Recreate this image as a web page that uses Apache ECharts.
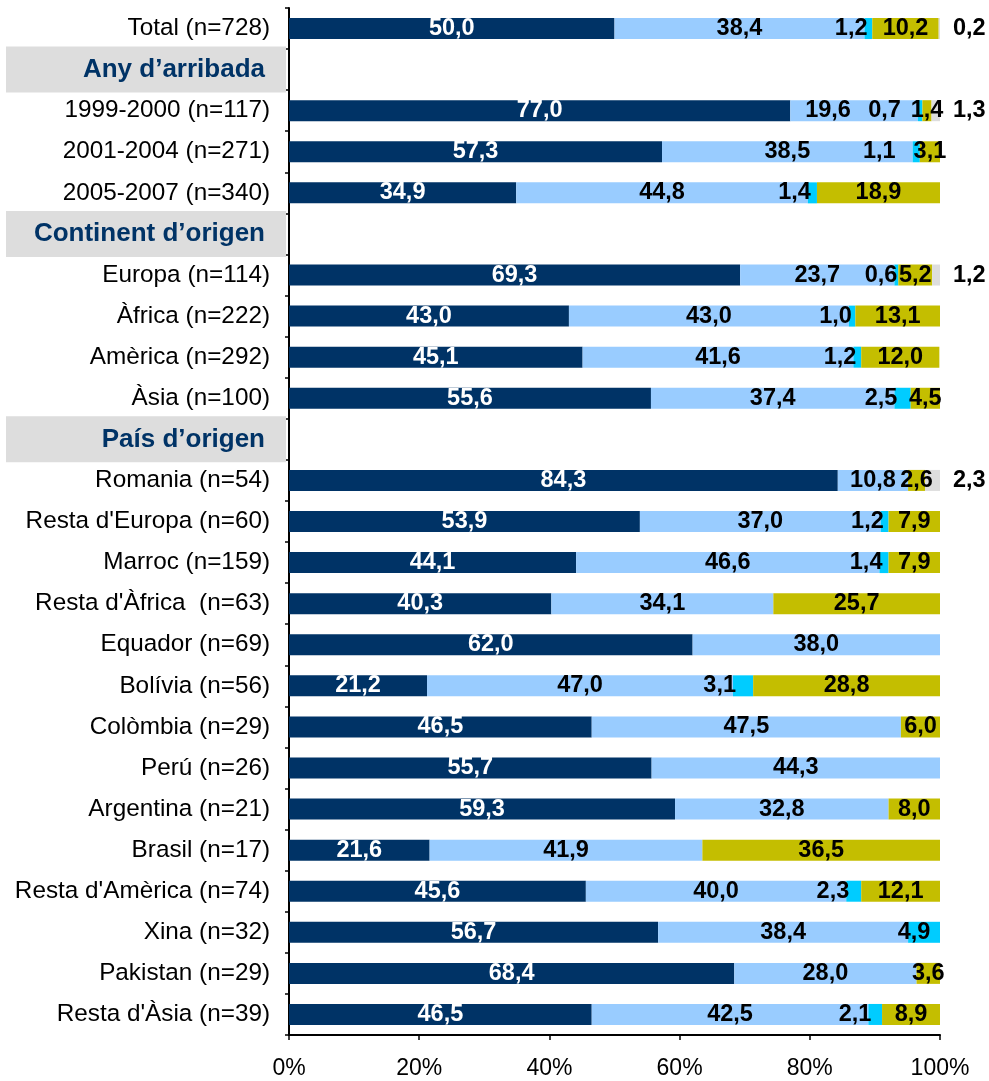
<!DOCTYPE html>
<html>
<head>
<meta charset="utf-8">
<script src="https://cdn.jsdelivr.net/npm/echarts@6/dist/echarts.min.js"></script>
<style>
  html, body { margin: 0; padding: 0; background: #fff; }
  #chart { width: 989px; height: 1081px; }
</style>
</head>
<body>
<div id="chart"></div>
<script>
const categories = [
  'Total (n=728)', 'Any d’arribada', '1999-2000 (n=117)', '2001-2004 (n=271)', '2005-2007 (n=340)',
  'Continent d’origen', 'Europa (n=114)', 'Àfrica (n=222)', 'Amèrica (n=292)', 'Àsia (n=100)',
  'País d’origen', 'Romania (n=54)', "Resta d'Europa (n=60)", 'Marroc (n=159)', "Resta d'Àfrica  (n=63)",
  'Equador (n=69)', 'Bolívia (n=56)', 'Colòmbia (n=29)', 'Perú (n=26)', 'Argentina (n=21)',
  'Brasil (n=17)', "Resta d'Amèrica (n=74)", 'Xina (n=32)', 'Pakistan (n=29)', "Resta d'Àsia (n=39)"
];
const headers = ['Any d’arribada', 'Continent d’origen', 'País d’origen'];

// null = header row
const navy  = [50.0, null, 77.0, 57.3, 34.9, null, 69.3, 43.0, 45.1, 55.6, null, 84.3, 53.9, 44.1, 40.3, 62.0, 21.2, 46.5, 55.7, 59.3, 21.6, 45.6, 56.7, 68.4, 46.5];
const light = [38.4, null, 19.6, 38.5, 44.8, null, 23.7, 43.0, 41.6, 37.4, null, 10.8, 37.0, 46.6, 34.1, 38.0, 47.0, 47.5, 44.3, 32.8, 41.9, 40.0, 38.4, 28.0, 42.5];
const cyan  = [1.2, null, 0.7, 1.1, 1.4, null, 0.6, 1.0, 1.2, 2.5, null, 0, 1.2, 1.4, 0, 0, 3.1, 0, 0, 0, 0, 2.3, 4.9, 0, 2.1];
const olive = [10.2, null, 1.4, 3.1, 18.9, null, 5.2, 13.1, 12.0, 4.5, null, 2.6, 7.9, 7.9, 25.7, 0, 28.8, 6.0, 0, 8.0, 36.5, 12.1, 0, 3.6, 8.9];
const grey  = [0.2, null, 1.3, 0, 0, null, 1.2, 0, 0, 0, null, 2.3, 0, 0, 0, 0, 0, 0, 0, 0, 0, 0, 0, 0, 0];

const xTicks = [0, 20, 40, 60, 80, 100];

const FONT = 'Arial, "Liberation Sans", sans-serif';
const fmt = p => (p.value ? p.value.toFixed(1).replace('.', ',') : '');

const labelBase = { show: true, fontFamily: FONT, fontSize: 23.5, fontWeight: 'bold', color: '#000', formatter: fmt };

// rows where a small olive segment sits right after the cyan one: push labels left
const tight = i => olive[i] > 0 && olive[i] < 3.5 && cyan[i] > 0;
const veryTight = i => olive[i] > 0 && olive[i] < 2 && cyan[i] > 0;

const lightData = light.map((v, i) => veryTight(i) ? { value: v, label: { offset: [-26, 0] } } : v);
const cyanData = cyan.map((v, i) => {
  if (v == null) return v;
  if (v > 4) return { value: v, label: { position: 'inside', offset: [-10, 0] } };
  if (tight(i)) return { value: v, label: { offset: [-20, 0] } };
  return v;
});

const chart = echarts.init(document.getElementById('chart'), null, { renderer: 'canvas' });

const option = {
  backgroundColor: '#fff',
  animation: false,
  grid: { left: 289, right: 49, top: 8, bottom: 46, containLabel: false },
  xAxis: {
    type: 'value',
    min: 0,
    max: 100,
    interval: 20,
    axisLine: { show: true, lineStyle: { color: '#000', width: 2 } },
    axisTick: { show: true, length: 5, lineStyle: { color: '#000', width: 1.5 } },
    splitLine: { show: false },
    axisLabel: {
      margin: 22,
      fontFamily: FONT,
      fontSize: 23,
      color: '#000',
      formatter: v => xTicks.includes(v) ? v + '%' : ''
    }
  },
  yAxis: {
    type: 'category',
    inverse: true,
    data: categories,
    axisLine: { show: true, lineStyle: { color: '#000', width: 2 } },
    axisTick: { show: true, length: 4, lineStyle: { color: '#000', width: 1.5 } },
    axisLabel: {
      margin: 3,
      interval: 0,
      formatter: v => headers.includes(v) ? '{h|' + v + '}' : '{n|' + v + '}',
      rich: {
        n: { fontFamily: FONT, fontSize: 24.3, color: '#000', padding: [0, 16, 0, 0] },
        h: {
          fontFamily: FONT, fontSize: 26, fontWeight: 'bold', color: '#003366',
          backgroundColor: '#DDDDDD', width: 259, height: 46, align: 'right',
          padding: [0, 21, 0, 0]
        }
      }
    }
  },
  series: [
    {
      name: 'navy', type: 'bar', stack: 'a', barWidth: 21, data: navy,
      itemStyle: { color: '#003366' },
      label: Object.assign({}, labelBase, { position: 'inside', color: '#fff' })
    },
    {
      name: 'light', type: 'bar', stack: 'a', barWidth: 21, data: lightData,
      itemStyle: { color: '#99CCFF' },
      label: Object.assign({}, labelBase, { position: 'inside' })
    },
    {
      name: 'cyan', type: 'bar', stack: 'a', barWidth: 21, data: cyanData,
      itemStyle: { color: '#00CCFF' },
      label: Object.assign({}, labelBase, { position: 'left', distance: -3 })
    },
    {
      name: 'olive', type: 'bar', stack: 'a', barWidth: 21, data: olive,
      itemStyle: { color: '#C4BE00' },
      label: Object.assign({}, labelBase, { position: 'inside' })
    },
    {
      name: 'grey', type: 'bar', stack: 'a', barWidth: 21, data: grey,
      itemStyle: { color: '#DDDDDD' },
      label: Object.assign({}, labelBase, { position: 'right', distance: 13 })
    }
  ]
};

chart.setOption(option);
window.addEventListener('resize', () => chart.resize());
</script>
</body>
</html>
